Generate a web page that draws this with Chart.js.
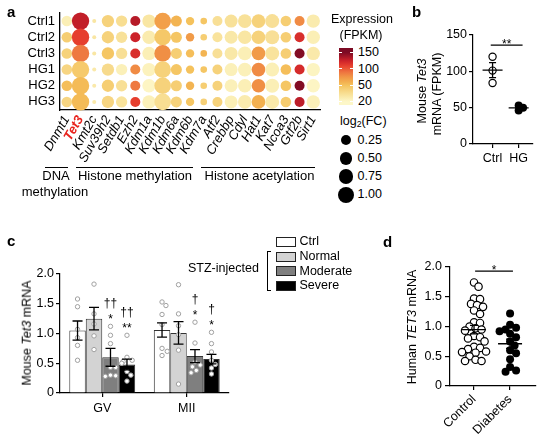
<!DOCTYPE html>
<html>
<head>
<meta charset="utf-8">
<script src="https://cdn.jsdelivr.net/npm/chart.js@4.4.0/dist/chart.umd.min.js"></script>
<style>
  html, body { margin: 0; padding: 0; background: #fff; }
  body { width: 554px; height: 443px; position: relative; overflow: hidden;
         font-family: 'Liberation Sans', Arial, sans-serif; color: #000; }
  canvas { position: absolute; }
  .t { position: absolute; white-space: nowrap; line-height: 1; }
  .v { position: absolute; white-space: nowrap; line-height: 1; font-size: 12.5px;
       transform: translate(-50%, -50%) rotate(-90deg); }
  sub { font-size: 0.7em; vertical-align: -0.25em; line-height: 0; }
</style>
</head>
<body>
<canvas id="chartA" width="330" height="168" style="left:0;top:0"></canvas>
<canvas id="chartB" width="154" height="150" style="left:400px;top:20px"></canvas>
<canvas id="chartC" width="240" height="200" style="left:0;top:230px"></canvas>
<canvas id="chartD" width="174" height="193" style="left:380px;top:250px"></canvas>

<script>
Chart.defaults.font.family = "'Liberation Sans', Arial, sans-serif";
Chart.defaults.color = '#000';
Chart.defaults.animation = false;

// ---- panel a : dot plot ----
var genes = ['Dnmt1', 'Tet3', 'Kmt2c', 'Suv39h2', 'Setdb1', 'Ezh2', 'Kdm1a', 'Kdm1b', 'Kdm6a', 'Kdm6b',
             'Kdm7a', 'Atf2', 'Crebbp', 'Cdyl', 'Hat1', 'Kat7', 'Ncoa3', 'Gtf2b', 'Sirt1'];
var samples = ['Ctrl1', 'Ctrl2', 'Ctrl3', 'HG1', 'HG2', 'HG3'];
var log2FC = [0.28, 1.23, -0.2, 0.48, 0.36, 0.22, 0.61, 1.1, 0.33, 0.07, -0.06, 0.22, 0.56, 0.65, 0.65, 0.7, 0.28, 0.22, 0.61];
var fpkmCtrl1 = [25, 128, 30, 42, 35, 132, 30, 70, 58, 50, 48, 34, 33, 33, 42, 34, 44, 80, 27];
var fpkmCtrl2 = [44, 110, 30, 42, 33, 125, 27, 47, 48, 72, 44, 32, 29, 30, 42, 34, 44, 118, 25];
var fpkmCtrl3 = [42, 88, 30, 48, 34, 118, 25, 78, 44, 52, 58, 34, 29, 25, 72, 32, 44, 148, 28];
var fpkmHG1 = [40, 46, 28, 37, 24, 80, 23, 42, 48, 50, 48, 42, 24, 24, 80, 25, 52, 120, 22];
var fpkmHG2 = [52, 54, 28, 44, 34, 88, 21, 42, 44, 58, 44, 42, 24, 25, 78, 25, 48, 148, 21];
var fpkmHG3 = [40, 54, 28, 40, 32, 110, 24, 35, 42, 48, 43, 42, 25, 27, 60, 28, 45, 130, 24];
var colorTicks = [150, 100, 50, 20];
var fcLegend = [0.25, 0.5, 0.75, 1.0];

// ---- panel b ----
var groupsB = ['Ctrl', 'HG'];
var tet3Ctrl = [120, 101, 84];
var tet3HG = [53, 50, 46];

// ---- panel c ----
var stages = ['GV', 'MII'];
var groupsC = ['Ctrl', 'Normal', 'Moderate', 'Severe'];
var barCtrl = [1.05, 1.06], semCtrl = [0.16, 0.12];
var barNormal = [1.25, 1.01], semNormal = [0.19, 0.19];
var barModerate = [0.60, 0.62], semModerate = [0.15, 0.11];
var barSevere = [0.48, 0.57], semSevere = [0.09, 0.08];
var ptsCtrl = [[1.58, 1.45, 1.07, 0.93, 0.80, 0.55], [1.53, 1.47, 1.32, 1.15, 0.75, 0.70, 0.63]];
var ptsNormal = [[1.83, 1.33, 1.16, 0.96, 0.73], [1.82, 1.33, 1.13, 0.98, 0.72, 0.15]];
var ptsModerate = [[1.12, 0.97, 0.83, 0.43, 0.43, 0.30, 0.29, 0.28], [1.19, 0.84, 0.52, 0.47, 0.44, 0.38, 0.34]];
var ptsSevere = [[0.97, 0.60, 0.55, 0.53, 0.50, 0.36, 0.30, 0.20], [1.02, 0.83, 0.69, 0.55, 0.48, 0.42, 0.32]];
var starsC = [['', ''], ['', ''], ['*', '*'], ['**', '*']];
var daggersC = [['', ''], ['', ''], ['\u2020\u2020', '\u2020'], ['\u2020\u2020', '\u2020']];

// ---- panel d ----
var groupsD = ['Control', 'Diabetes'];
var tet3Control = [1.74, 1.67, 1.47, 1.46, 1.38, 1.36, 1.33, 1.27, 1.21, 1.07, 1.06, 1.0, 0.97, 0.95, 0.93,
                   0.84, 0.82, 0.8, 0.75, 0.66, 0.64, 0.62, 0.58, 0.57, 0.56, 0.5, 0.44, 0.42, 0.42];
var tet3Diabetes = [1.22, 1.03, 0.98, 0.95, 0.92, 0.88, 0.82, 0.75, 0.68, 0.6, 0.55, 0.45, 0.32, 0.26, 0.24];

// colour map for FPKM
var cmap = [[20, '#fdf7c8'], [30, '#f9e6a3'], [42, '#f6d27b'], [50, '#f5c25c'], [60, '#f3b050'],
            [75, '#f19646'], [90, '#ee7440'], [110, '#e63e2e'], [125, '#cc222a'], [150, '#7c0a24']];
function hex(c) { return [1, 3, 5].map(function (i) { return parseInt(c.substr(i, 2), 16); }); }
function fpkmColor(v) {
  if (v <= cmap[0][0]) return cmap[0][1];
  for (var i = 1; i < cmap.length; i++) {
    if (v <= cmap[i][0]) {
      var t = (v - cmap[i - 1][0]) / (cmap[i][0] - cmap[i - 1][0]);
      var a = hex(cmap[i - 1][1]), b = hex(cmap[i][1]);
      return 'rgb(' + a.map(function (x, k) { return Math.round(x + (b[k] - x) * t); }).join(',') + ')';
    }
  }
  return cmap[cmap.length - 1][1];
}
function sizeFor(fc) { return Math.sqrt(Math.max(4, 14 + 50 * fc)); }

var rowsA = [fpkmCtrl1, fpkmCtrl2, fpkmCtrl3, fpkmHG1, fpkmHG2, fpkmHG3];
var bubbleData = [], bubbleColors = [];
rowsA.forEach(function (row, si) {
  row.forEach(function (v, gi) {
    bubbleData.push({ x: genes[gi], y: samples[si], r: sizeFor(log2FC[gi]) });
    bubbleColors.push(fpkmColor(v));
  });
});

new Chart(document.getElementById('chartA'), {
  type: 'bubble',
  data: { datasets: [{ data: bubbleData, backgroundColor: bubbleColors, borderWidth: 0, clip: false }] },
  options: {
    responsive: false,
    layout: { padding: { top: 13, right: 6, left: 0, bottom: 0 } },
    plugins: { legend: { display: false }, tooltip: { enabled: false } },
    scales: {
      x: {
        type: 'category', labels: genes, offset: true,
        grid: { display: false, drawTicks: false },
        border: { display: true, color: '#000', width: 1.3 },
        ticks: {
          autoSkip: false, minRotation: 60, maxRotation: 60, padding: 3,
          color: function (c) { return c.index === 1 ? '#e8231d' : '#000'; },
          font: function (c) { return { size: 13, style: 'italic', weight: c.index === 1 ? 'bold' : 'normal' }; }
        },
        afterFit: function (s) { s.height = 58; }
      },
      y: {
        type: 'category', labels: samples, offset: true,
        grid: { display: false, drawTicks: false },
        border: { display: true, color: '#000', width: 1.3 },
        ticks: { autoSkip: false, font: { size: 13 }, padding: 5 },
        afterFit: function (s) { s.width = 60; }
      }
    }
  }
});

// ---- helpers ----
function swarm(ys, r) {
  var order = ys.map(function (y, i) { return i; }).sort(function (a, b) { return ys[a] - ys[b]; });
  var placed = [], offs = [];
  order.forEach(function (i) {
    var off = 0;
    for (var k = 0; k < 60; k++) {
      off = (k % 2 ? 1 : -1) * Math.ceil(k / 2) * r * 0.5;
      if (placed.every(function (p) { return Math.hypot(p.x - off, p.y - ys[i]) >= 2 * r; })) break;
    }
    placed.push({ x: off, y: ys[i] });
    offs[i] = off;
  });
  return offs;
}

function applySwarm(chart, centers, r) {
  var x = chart.scales.x, y = chart.scales.y;
  var ppu = x.getPixelForValue(1) - x.getPixelForValue(0);
  chart.data.datasets.forEach(function (ds, i) {
    var ys = ds.data.map(function (p) { return y.getPixelForValue(p.y); });
    var offs = swarm(ys, r);
    ds.data = ds.data.map(function (p, k) { return { x: centers[i] + offs[k] / ppu, y: p.y }; });
  });
  chart.update('none');
}

var meanSem = {
  id: 'meanSem',
  afterDatasetsDraw: function (chart, args, o) {
    var ctx = chart.ctx, x = chart.scales.x, y = chart.scales.y;
    ctx.save(); ctx.strokeStyle = '#000'; ctx.lineWidth = 1.3;
    o.centers.forEach(function (c, i) {
      var v = chart.data.datasets[i].data.map(function (p) { return p.y; });
      var m = v.reduce(function (a, b) { return a + b; }, 0) / v.length;
      var sd = Math.sqrt(v.reduce(function (a, b) { return a + (b - m) * (b - m); }, 0) / (v.length - 1));
      var se = sd / Math.sqrt(v.length);
      var cx = x.getPixelForValue(c), cy = y.getPixelForValue(m);
      var t = y.getPixelForValue(m + se), b = y.getPixelForValue(m - se);
      ctx.beginPath();
      ctx.moveTo(cx - o.half, cy); ctx.lineTo(cx + o.half, cy);
      ctx.moveTo(cx, t); ctx.lineTo(cx, b);
      ctx.moveTo(cx - o.cap, t); ctx.lineTo(cx + o.cap, t);
      ctx.moveTo(cx - o.cap, b); ctx.lineTo(cx + o.cap, b);
      ctx.stroke();
    });
    ctx.restore();
  }
};

var sigBar = {
  id: 'sigBar',
  afterDraw: function (chart, args, o) {
    var ctx = chart.ctx, x = chart.scales.x, y = chart.scales.y;
    var yy = y.getPixelForValue(o.y), x1 = x.getPixelForValue(o.from), x2 = x.getPixelForValue(o.to);
    ctx.save();
    ctx.strokeStyle = '#000'; ctx.lineWidth = 1.2;
    ctx.beginPath(); ctx.moveTo(x1, yy); ctx.lineTo(x2, yy); ctx.stroke();
    ctx.fillStyle = '#000'; ctx.font = "12px 'Liberation Sans', Arial"; ctx.textAlign = 'center';
    ctx.textBaseline = 'alphabetic';
    ctx.fillText(o.text, (x1 + x2) / 2, yy + 2.5);
    ctx.restore();
  }
};

function axisY(min, max, step, fmt, tl, pad, w) {
  return {
    type: 'linear', min: min, max: max,
    grid: { drawOnChartArea: false, drawTicks: true, tickLength: tl, color: '#000', lineWidth: 1.2 },
    border: { display: true, color: '#000', width: 1.2 },
    ticks: { stepSize: step, font: { size: 12.5 }, padding: pad, callback: fmt },
    afterFit: function (s) { s.width = w; }
  };
}

// ---- panel b ----
var chartB = new Chart(document.getElementById('chartB'), {
  type: 'scatter',
  data: {
    datasets: [
      { data: tet3Ctrl.map(function (v) { return { x: 1, y: v }; }), pointRadius: 3.6,
        backgroundColor: '#fff', borderColor: '#000', borderWidth: 1.2 },
      { data: tet3HG.map(function (v) { return { x: 2, y: v }; }), pointRadius: 4,
        backgroundColor: '#000', borderColor: '#000', borderWidth: 0 }
    ]
  },
  options: {
    responsive: false,
    layout: { padding: { top: 15, right: 21, left: 0, bottom: 0 } },
    plugins: {
      legend: { display: false }, tooltip: { enabled: false },
      meanSem: { centers: [1, 2], half: 10, cap: 3.5 },
      sigBar: { from: 0.93, to: 2.15, y: 136, text: '**' }
    },
    scales: {
      x: {
        type: 'linear', min: 0.25, max: 2.55,
        grid: { drawOnChartArea: false, drawTicks: true, tickLength: 4, color: '#000', lineWidth: 1.2 },
        border: { display: true, color: '#000', width: 1.2 },
        afterBuildTicks: function (s) { s.ticks = [{ value: 1 }, { value: 2 }]; },
        ticks: { font: { size: 12.5 }, padding: 3, callback: function (v) { return groupsB[v - 1]; } },
        afterFit: function (s) { s.height = 26; }
      },
      y: axisY(0, 150, 50, function (v) { return v; }, 4, 2, 73)
    }
  },
  plugins: [meanSem, sigBar]
});
applySwarm(chartB, [1, 2], 2.2);

// ---- panel c ----
var barExtras = {
  id: 'barExtras',
  afterDatasetsDraw: function (chart, args, o) {
    var ctx = chart.ctx, y = chart.scales.y;
    ctx.save();
    chart.data.datasets.forEach(function (ds, i) {
      var meta = chart.getDatasetMeta(i);
      meta.data.forEach(function (el, j) {
        var pts = o.points[i][j];
        var ys = pts.map(function (v) { return y.getPixelForValue(v); });
        var lim = el.width / 2 - 3;
        var offs = swarm(ys, 2.6).map(function (d) { return Math.max(-lim, Math.min(lim, d)); });
        ctx.lineWidth = 1; ctx.strokeStyle = '#a0a0a0'; ctx.fillStyle = '#fff';
        ys.forEach(function (py, k) {
          ctx.beginPath(); ctx.arc(el.x + offs[k], py, 2.2, 0, Math.PI * 2); ctx.fill(); ctx.stroke();
        });
        var m = ds.data[j], se = o.sems[i][j];
        var t = y.getPixelForValue(m + se), b = y.getPixelForValue(m - se);
        ctx.strokeStyle = '#000'; ctx.lineWidth = 1.3;
        ctx.beginPath();
        ctx.moveTo(el.x, t); ctx.lineTo(el.x, b);
        ctx.moveTo(el.x - 5, t); ctx.lineTo(el.x + 5, t);
        ctx.moveTo(el.x - 5, b); ctx.lineTo(el.x + 5, b);
        ctx.stroke();
        var top = Math.min.apply(null, ys);
        ctx.fillStyle = '#000'; ctx.font = "12px 'Liberation Sans', Arial"; ctx.textAlign = 'center';
        ctx.textBaseline = 'alphabetic';
        if (o.stars[i][j]) ctx.fillText(o.stars[i][j], el.x, top - 3.5);
        if (o.daggers[i][j]) ctx.fillText(o.daggers[i][j], el.x, top - 19);
      });
    });
    ctx.restore();
  }
};

var barFills = ['#ffffff', '#d3d3d3', '#7f7f7f', '#000000'];
new Chart(document.getElementById('chartC'), {
  type: 'bar',
  data: {
    labels: stages,
    datasets: [barCtrl, barNormal, barModerate, barSevere].map(function (d, i) {
      return { label: groupsC[i], data: d, backgroundColor: barFills[i], borderColor: '#333',
               borderWidth: 1, categoryPercentage: 0.78, barPercentage: 1.0 };
    })
  },
  options: {
    responsive: false,
    layout: { padding: { top: 44, right: 11, left: 0, bottom: 0 } },
    plugins: {
      legend: { display: false }, tooltip: { enabled: false },
      barExtras: {
        points: [ptsCtrl, ptsNormal, ptsModerate, ptsSevere],
        sems: [semCtrl, semNormal, semModerate, semSevere],
        stars: starsC, daggers: daggersC
      }
    },
    scales: {
      x: {
        grid: { offset: false, drawOnChartArea: false, drawTicks: true, tickLength: 4, color: '#000', lineWidth: 1.2 },
        border: { display: true, color: '#000', width: 1.2 },
        ticks: { font: { size: 12.5 }, padding: 4 },
        afterFit: function (s) { s.height = 37; }
      },
      y: axisY(0, 2, 0.5, function (v) { return v === 0 ? '0' : v.toFixed(1); }, 4, 2, 60)
    }
  },
  plugins: [barExtras]
});

// ---- panel d ----
var chartD = new Chart(document.getElementById('chartD'), {
  type: 'scatter',
  data: {
    datasets: [
      { data: tet3Control.map(function (v) { return { x: 1, y: v }; }), pointRadius: 3.7,
        backgroundColor: '#fff', borderColor: '#000', borderWidth: 1.2 },
      { data: tet3Diabetes.map(function (v) { return { x: 2, y: v }; }), pointRadius: 4,
        backgroundColor: '#000', borderColor: '#000', borderWidth: 0 }
    ]
  },
  options: {
    responsive: false,
    layout: { padding: { top: 17, right: 18, left: 0, bottom: 0 } },
    plugins: {
      legend: { display: false }, tooltip: { enabled: false },
      meanSem: { centers: [1, 2], half: 12, cap: 4 },
      sigBar: { from: 1.03, to: 2.08, y: 1.93, text: '*' }
    },
    scales: {
      x: {
        type: 'linear', min: 0.333, max: 2.72,
        grid: { drawOnChartArea: false, drawTicks: true, tickLength: 4, color: '#000', lineWidth: 1.2 },
        border: { display: true, color: '#000', width: 1.2 },
        afterBuildTicks: function (s) { s.ticks = [{ value: 1 }, { value: 2 }]; },
        ticks: { font: { size: 12.5 }, padding: 2, minRotation: 45, maxRotation: 45,
                 callback: function (v) { return groupsD[v - 1]; } },
        afterFit: function (s) { s.height = 57; }
      },
      y: axisY(0, 2, 0.5, function (v) { return v === 0 ? '0' : v.toFixed(1); }, 5, 3, 70)
    }
  },
  plugins: [meanSem, sigBar]
});
applySwarm(chartD, [1, 2], 3);

// ---- text, legends ----
function txt(s, x, base, size, o) {
  o = o || {};
  var d = document.createElement('div');
  d.className = 't';
  d.innerHTML = s;
  d.style.fontSize = size + 'px';
  d.style.top = (base - 0.846 * size) + 'px';
  d.style.left = x + 'px';
  if (o.center) d.style.transform = 'translateX(-50%)';
  if (o.bold) d.style.fontWeight = 'bold';
  document.body.appendChild(d);
}
function vtxt(s, cx, cy) {
  var d = document.createElement('div');
  d.className = 'v'; d.innerHTML = s;
  d.style.left = cx + 'px'; d.style.top = cy + 'px';
  document.body.appendChild(d);
}
function box(x, y, w, h, css) {
  var d = document.createElement('div');
  d.style.position = 'absolute';
  d.style.left = x + 'px'; d.style.top = y + 'px'; d.style.width = w + 'px'; d.style.height = h + 'px';
  d.style.cssText += css || '';
  document.body.appendChild(d);
  return d;
}

txt('a', 7, 17, 15, { bold: true });
txt('b', 412, 17, 15, { bold: true });
txt('c', 7, 246, 15, { bold: true });
txt('d', 383, 247, 15, { bold: true });

// panel a group labels
box(45, 167, 23, 0, 'border-top:1px solid #000');
box(76, 167, 117, 0, 'border-top:1px solid #000');
box(201, 167, 114, 0, 'border-top:1px solid #000');
txt('DNA', 56, 180, 13, { center: true });
txt('methylation', 55, 195.5, 13, { center: true });
txt('Histone methylation', 135, 180, 13, { center: true });
txt('Histone acetylation', 259.5, 180, 13, { center: true });

// colour bar
txt('Expression', 331, 24, 12.5);
txt('(FPKM)', 361, 39.5, 12.5, { center: true });
var cbTop = 48, cbBot = 105, tickPos = [52.5, 68.8, 85.2, 101.5];
function valAt(p) {
  if (p <= tickPos[0]) return colorTicks[0];
  for (var i = 1; i < tickPos.length; i++) {
    if (p <= tickPos[i]) {
      var t = (p - tickPos[i - 1]) / (tickPos[i] - tickPos[i - 1]);
      return colorTicks[i - 1] + (colorTicks[i] - colorTicks[i - 1]) * t;
    }
  }
  return colorTicks[colorTicks.length - 1];
}
var stops = [];
for (var p = cbTop; p <= cbBot; p++) stops.push(fpkmColor(valAt(p)) + ' ' + (p - cbTop) + 'px');
box(339, cbTop, 14, cbBot - cbTop, 'background:linear-gradient(to bottom,' + stops.join(',') + ')');
colorTicks.forEach(function (v, i) {
  box(339, tickPos[i] - 0.5, 3, 1, 'background:#fff');
  box(350, tickPos[i] - 0.5, 3, 1, 'background:#fff');
  txt(String(v), 358, tickPos[i] + 4.3, 12.5);
});

// size legend
txt('log<sub>2</sub>(FC)', 340, 126, 12.5);
var legY = [140.3, 158.5, 176.5, 194.5];
fcLegend.forEach(function (fc, i) {
  var r = sizeFor(fc);
  box(346 - r, legY[i] - r, 2 * r, 2 * r, 'background:#000;border-radius:50%');
  txt(fc.toFixed(2), 357.5, legY[i] + 4.5, 12.5);
});

// axis titles
vtxt('Mouse <i>Tet3</i>', 422, 91);
vtxt('mRNA (FPKM)', 437, 94);
vtxt('Mouse <i>Tet3</i> mRNA', 27, 333);
vtxt('Human <i>TET3</i> mRNA', 412, 326.5);

// panel c legend
var legC = [241.3, 256.3, 270.7, 285];
groupsC.forEach(function (g, i) {
  box(275.5, legC[i] - 4.5, 18, 8, 'background:' + barFills[i] + ';border:1px solid #222');
  txt(g, 299.5, legC[i] + 4.5, 12.5);
});
txt('STZ-injected', 188, 273, 12.5);
box(266.5, 251, 3, 38, 'border-left:1px solid #000;border-top:1px solid #000;border-bottom:1px solid #000');
</script>
</body>
</html>
